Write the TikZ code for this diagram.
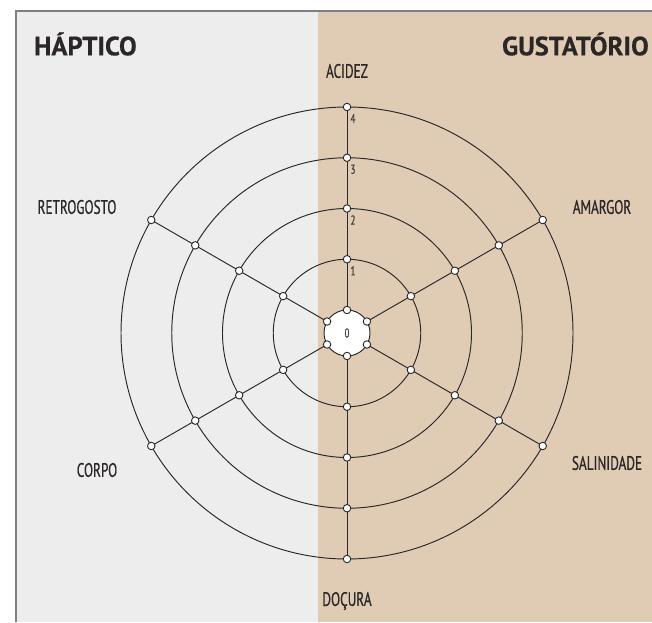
\documentclass[tikz,border=0pt]{standalone}
\usepackage{fontspec}
\setmainfont{PT Sans}
\newfontfamily\condfont[FakeStretch=0.68,FakeBold=0.6]{PT Sans}
\newfontfamily\titlefont[FakeBold=0.4]{PT Sans Bold}
\usetikzlibrary{calc}
\definecolor{leftbg}{HTML}{EDEDED}
\definecolor{rightbg}{HTML}{E0CCB5}
\definecolor{framecol}{HTML}{808080}
\definecolor{ink}{HTML}{2A2726}
\tikzset{
  marker/.style={circle, draw=ink, fill=white, line width=0.9pt, inner sep=0pt, minimum size=7.5pt},
  axislabel/.style={text=ink, font=\condfont\fontsize{19.5}{21}\selectfont, inner sep=0pt},
  title/.style={text=ink, font=\titlefont\fontsize{26.5}{28}\selectfont, inner sep=0pt},
  numlabel/.style={text=ink!90, font=\condfont\fontsize{13}{14}\selectfont, inner sep=0pt},
  ring/.style={draw=ink, line width=0.95pt},
  spoke/.style={draw=ink, line width=0.95pt},
}
\begin{document}
\begin{tikzpicture}[x=1pt,y=1pt]
\useasboundingbox (0,0) rectangle (652,622);
\fill[white] (0,0) rectangle (652,622);
\fill[leftbg] (16,0) rectangle (317.5,611);
\fill[rightbg] (317.5,0) rectangle (652,611);
\draw[framecol, line width=1.4pt] (16,0) -- (16,611) -- (652,611);

\coordinate (c) at (347,289);
% rings
\foreach \r in {73.75,124.5,175.25,226} {
  \draw[ring] (c) circle[radius=\r];
}
\fill[white] (c) circle[radius=23];
\draw[ring] (c) circle[radius=23];

% marker positions
\foreach \a [count=\i] in {90,30,-30,-90,210,150} {
  \foreach \r [count=\k from 0] in {23,73.75,124.5,175.25,226} {
    \coordinate (p-\i-\k) at ($(c)+(\a:\r)$);
  }
}
% spokes
\foreach \i in {1,...,6} {
  \draw[spoke] (p-\i-0) -- (p-\i-4);
}
% markers
\foreach \i in {1,...,6} {
  \foreach \k in {0,...,4} {
    \node[marker] (m-\i-\k) at (p-\i-\k) {};
  }
}

% scale numbers
\node[numlabel] (n0) at (c) {0};
\node[numlabel] (n1) at ($(m-1-1)+(6,-11.5)$) {1};
\node[numlabel] (n2) at ($(m-1-2)+(6,-11.5)$) {2};
\node[numlabel] (n3) at ($(m-1-3)+(6,-11.5)$) {3};
\node[numlabel] (n4) at ($(m-1-4)+(6,-11.5)$) {4};

% axis labels
\node[axislabel] (acidez) at (347,551) {ACIDEZ};
\node[axislabel] (amargor) at (602,415) {AMARGOR};
\node[axislabel] (salinidade) at (607,159) {SALINIDADE};
\node[axislabel] (docura) at (347,21) {DOÇURA};
\node[axislabel] (corpo) at (97,152) {CORPO};
\node[axislabel] (retrogosto) at (77,415) {RETROGOSTO};

% titles
\node[title, anchor=west] (haptico) at (34,578) {HÁPTICO};
\node[title, anchor=east] (gustatorio) at (649,578) {GUSTATÓRIO};
\end{tikzpicture}
\end{document}
